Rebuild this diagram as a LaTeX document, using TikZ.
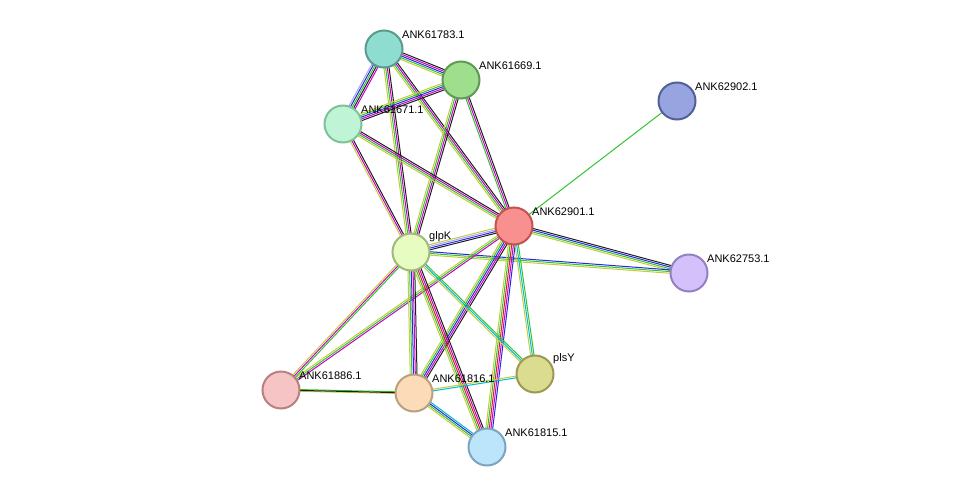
\documentclass[tikz,border=0pt]{standalone}
\usepackage{fontspec}
\setmainfont{Liberation Sans}
\usetikzlibrary{calc}
\definecolor{cg}{RGB}{50,195,50}
\definecolor{cy}{RGB}{195,205,60}
\definecolor{cm}{RGB}{200,0,200}
\definecolor{ck}{RGB}{30,30,30}
\definecolor{cb}{RGB}{40,40,225}
\definecolor{cc}{RGB}{0,185,210}
\definecolor{cr}{RGB}{225,30,30}
\definecolor{cl}{RGB}{170,160,250}
\newcommand\edg[4]{\foreach \c [count=\i] in {#4}{%
  \pgfmathsetmacro\off{(\i-(#3+1)/2)*1.7}%
  \draw[draw=\c,line width=1pt] ($(#1)!\off pt!90:(#2)$) -- ($(#2)!\off pt!-90:(#1)$);}}
\tikzset{prot/.style={circle,minimum size=37pt,inner sep=0,line width=2pt},
lab/.style={font=\fontsize{11}{12}\selectfont,anchor=south west,inner sep=1pt}}
\begin{document}
\begin{tikzpicture}[x=1pt,y=-1pt]
\useasboundingbox (0,0) rectangle (975,493);
\coordinate (A) at (384,49);
\coordinate (B) at (461,80);
\coordinate (C) at (343,124);
\coordinate (D) at (677,101);
\coordinate (E) at (514,226);
\coordinate (G) at (411,252);
\coordinate (H) at (689,273);
\coordinate (P) at (535,374);
\coordinate (I) at (281,390);
\coordinate (J) at (414,393);
\coordinate (K) at (487,447);
\edg{A}{B}{5}{cy,cg,cb,cm,ck}
\edg{A}{C}{5}{cl,cb,cg,ck,cm}
\edg{A}{G}{4}{cy,cg,cm,ck}
\edg{A}{E}{4}{cy,cg,cm,ck}
\edg{B}{C}{5}{cy,cg,cb,cm,ck}
\edg{B}{G}{4}{cy,cg,cm,ck}
\edg{B}{E}{3}{cg,cm,ck}
\edg{C}{G}{3}{cy,cm,ck}
\edg{C}{E}{4}{cy,cg,cm,ck}
\edg{D}{E}{1}{cg}
\edg{E}{G}{4}{cy,cl,cb,ck}
\edg{E}{H}{4}{cy,cg,cb,ck}
\edg{G}{H}{3}{cy,cg,cb}
\edg{E}{I}{3}{cy,cg,cm}
\edg{E}{J}{5}{cy,cg,cb,cm,ck}
\edg{E}{K}{5}{cy,cg,cr,cm,cb}
\edg{E}{P}{3}{cy,cc,cg}
\edg{G}{I}{3}{cy,cm,cg}
\edg{G}{J}{5}{cy,cg,cb,cm,ck}
\edg{G}{K}{5}{cy,cg,cr,cm,ck}
\edg{G}{P}{3}{cy,cc,cg}
\edg{I}{J}{2}{cy,cg}
\edg{J}{P}{2}{cc,cy}
\edg{J}{K}{4}{cy,cg,cb,cc}
\edg{J}{I}{1}{ck}
\node[prot,fill={rgb,255:red,143;green,220;blue,208},draw={rgb,255:red,90;green,154;blue,144}] (a) at (A) {};
\node[prot,fill={rgb,255:red,158;green,222;blue,140},draw={rgb,255:red,95;green,154;blue,85}] (b) at (B) {};
\node[prot,fill={rgb,255:red,191;green,245;blue,214},draw={rgb,255:red,127;green,194;blue,154}] (c) at (C) {};
\node[prot,fill={rgb,255:red,152;green,164;blue,224},draw={rgb,255:red,82;green,96;blue,154}] (d) at (D) {};
\node[prot,fill={rgb,255:red,249;green,144;blue,144},draw={rgb,255:red,196;green,80;blue,80}] (e) at (E) {};
\node[prot,fill={rgb,255:red,230;green,252;blue,192},draw={rgb,255:red,160;green,184;blue,122}] (g) at (G) {};
\node[prot,fill={rgb,255:red,212;green,192;blue,250},draw={rgb,255:red,146;green,128;blue,192}] (h) at (H) {};
\node[prot,fill={rgb,255:red,220;green,220;blue,144},draw={rgb,255:red,154;green,154;blue,80}] (p) at (P) {};
\node[prot,fill={rgb,255:red,246;green,196;blue,196},draw={rgb,255:red,184;green,128;blue,128}] (i) at (I) {};
\node[prot,fill={rgb,255:red,252;green,220;blue,184},draw={rgb,255:red,184;green,160;blue,128}] (j) at (J) {};
\node[prot,fill={rgb,255:red,188;green,228;blue,250},draw={rgb,255:red,122;green,164;blue,192}] (k) at (K) {};
\node[lab] at ($(A)+(17,-9)$) {ANK61783.1};
\node[lab] at ($(B)+(17,-9)$) {ANK61669.1};
\node[lab] at ($(C)+(17,-9)$) {ANK61671.1};
\node[lab] at ($(D)+(17,-9)$) {ANK62902.1};
\node[lab] at ($(E)+(17,-9)$) {ANK62901.1};
\node[lab] at ($(G)+(17,-9)$) {glpK};
\node[lab] at ($(H)+(17,-9)$) {ANK62753.1};
\node[lab] at ($(P)+(17,-9)$) {plsY};
\node[lab] at ($(I)+(17,-9)$) {ANK61886.1};
\node[lab] at ($(J)+(17,-9)$) {ANK61816.1};
\node[lab] at ($(K)+(17,-9)$) {ANK61815.1};
\end{tikzpicture}
\end{document}
